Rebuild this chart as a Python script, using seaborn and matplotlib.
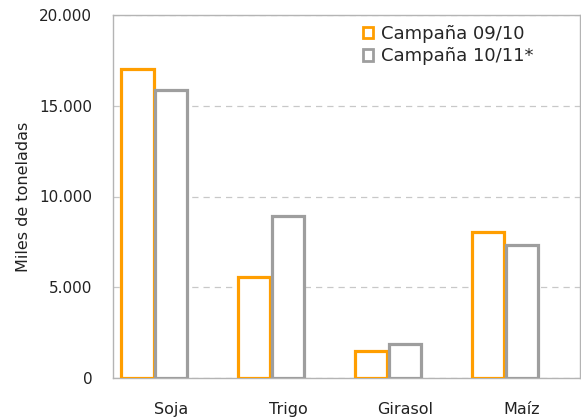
import pandas as pd
import matplotlib.pyplot as plt
import seaborn as sns
from matplotlib.patches import Patch
from matplotlib.ticker import FuncFormatter

# Datos (miles de toneladas)
cultivos = ['Soja', 'Trigo', 'Girasol', 'Maíz']
campana_0910 = [17030, 5590, 1490, 8060]
campana_1011 = [15870, 8930, 1880, 7330]
series = ['Campaña 09/10', 'Campaña 10/11*']
colores = ['#FF9E00', '#9E9E9E']

df = pd.DataFrame({
    'cultivo': cultivos * 2,
    'valor': campana_0910 + campana_1011,
    'serie': [series[0]] * 4 + [series[1]] * 4,
})

sns.set_style('white')
plt.rcParams['font.family'] = ['DejaVu Sans']

fig = plt.figure(figsize=(5.81, 4.2), dpi=100)
ax = fig.add_axes([113 / 581, 42 / 420, 467 / 581, 363 / 420])

# third empty hue level keeps the Excel-like spacing on the right of each pair
sns.barplot(data=df, x='cultivo', y='valor', hue='serie',
            order=cultivos, hue_order=series + ['_vacio'],
            palette=['white', 'white', 'white'], width=0.87,
            legend=False, ax=ax, zorder=3)

for i, patch in enumerate(ax.patches):
    s = i // len(cultivos)
    if s < 2:
        # leave a hairline gap between the two bars of a pair
        w = patch.get_width()
        patch.set_x(patch.get_x() + 0.007)
        patch.set_width(w - 0.014)
        patch.set_edgecolor(colores[s])
        patch.set_linewidth(2.3)
        patch.set_facecolor('white')

ax.set_ylim(0, 20000)
ax.set_xlim(-0.5, 3.5)
ax.set_yticks([0, 5000, 10000, 15000, 20000])
ax.yaxis.set_major_formatter(FuncFormatter(lambda v, p: f'{int(v):,}'.replace(',', '.')))
ax.yaxis.grid(True, linestyle=(0, (5, 4)), color='#C8C8C8', linewidth=0.9, zorder=0)
ax.set_axisbelow(True)

for sp in ax.spines.values():
    sp.set_color('#B4B4B4')
    sp.set_linewidth(1.0)

ax.tick_params(axis='both', length=0, colors='#222222')
ax.tick_params(axis='y', pad=15, labelsize=11)
ax.tick_params(axis='x', pad=17, labelsize=11.5)
ax.set_xlabel('')
ax.set_ylabel('Miles de toneladas', fontsize=11.5, color='#222222', labelpad=6)

handles = [Patch(facecolor='white', edgecolor=c, linewidth=2.0) for c in colores]
ax.legend(handles, series, loc='upper left', bbox_to_anchor=(0.513, 1.0),
          frameon=False, fontsize=13, handlelength=0.6, handleheight=0.6,
          handletextpad=0.45, labelspacing=0.25, borderaxespad=0.15)

fig.savefig('out.png', dpi=100)
